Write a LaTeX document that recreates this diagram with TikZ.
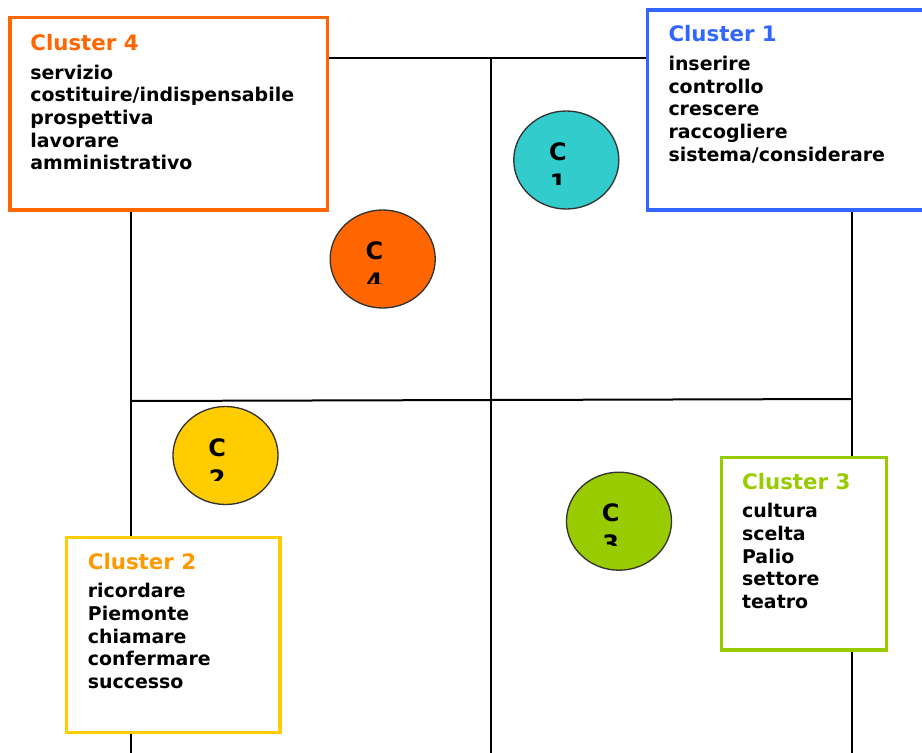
\documentclass[tikz,border=0pt]{standalone}
\usepackage{fontspec}
\setmainfont{DejaVu Sans}
\usepackage{xcolor}
\usepackage{tikz}
\usetikzlibrary{calc}
\usetikzlibrary{positioning}
\usetikzlibrary{shapes.geometric}

\definecolor{clorange}{HTML}{FF6600}
\definecolor{clblue}{HTML}{3366FF}
\definecolor{clyellow}{HTML}{FFCC00}
\definecolor{clamber}{HTML}{FF9900}
\definecolor{clgreen}{HTML}{99CC00}
\definecolor{clteal}{HTML}{33CCCC}

\begin{document}
\begin{tikzpicture}[x=0.75pt,y=-0.75pt,-,semithick]
  \tikzstyle{axis}=[draw, line width=1.5pt]
  \tikzstyle{clbox}=[draw, rectangle, line width=2.4pt, fill=white, inner sep=0pt]
  \tikzstyle{cltitle}=[anchor=base west, inner sep=0pt, font=\fontsize{16}{19}\selectfont\bfseries]
  \tikzstyle{clwords}=[anchor=north west, inner sep=0pt, align=left, font=\fontsize{14.2}{17}\selectfont\bfseries]
  \tikzstyle{blob}=[draw=black!80, ellipse, line width=1pt, minimum width=78.8pt, minimum height=73.5pt, inner sep=0pt]
  \tikzstyle{blobtext}=[anchor=north, align=center, inner sep=0pt, font=\fontsize{18}{23.25}\selectfont\bfseries]

  \useasboundingbox (0,0) rectangle (922,753);

  % quadrants
  \draw[axis] (131,760) -- (131,58) -- (852,58) -- (852,760);
  \draw[axis] (491,58) -- (491,760);
  \draw[axis] (131,401) -- (852,399);

  % cluster boxes
  \node[clbox, draw=clorange, minimum width=238.3pt, minimum height=144.2pt] (b4) at (168.85,113.85) {};
  \node[clbox, draw=clblue, minimum width=219.5pt, minimum height=150pt] (b1) at (793.65,110) {};
  \node[clbox, draw=clyellow, minimum width=160pt, minimum height=146.25pt] (b2) at (173.35,634.8) {};
  \node[clbox, draw=clgreen, minimum width=123.75pt, minimum height=144.5pt] (b3) at (804.2,553.65) {};

  \node[cltitle, text=clorange] (t4) at ([xshift=16.2pt,yshift=-25.5pt]b4.north west) {Cluster 4};
  \node[clwords] (w4) at ([yshift=-10.6pt]t4.base west) {servizio\\costituire/indispensabile\\prospettiva\\lavorare\\amministrativo};

  \node[cltitle, text=clblue] (t1) at ([xshift=16.8pt,yshift=-25pt]b1.north west) {Cluster 1};
  \node[clwords] (w1) at ([yshift=-10.6pt]t1.base west) {inserire\\controllo\\crescere\\raccogliere\\sistema/considerare};

  \node[cltitle, text=clamber] (t2) at ([xshift=16.8pt,yshift=-25pt]b2.north west) {Cluster 2};
  \node[clwords] (w2) at ([yshift=-10.6pt]t2.base west) {ricordare\\Piemonte\\chiamare\\confermare\\successo};

  \node[cltitle, text=clgreen] (t3) at ([xshift=16.2pt,yshift=-25pt]b3.north west) {Cluster 3};
  \node[clwords] (w3) at ([yshift=-10.6pt]t3.base west) {cultura\\scelta\\Palio\\settore\\teatro};

  % cluster centres
  \foreach \name/\cx/\cy/\col/\num in {c1/566.3/160/clteal/1, c4/382.7/259/clorange/4, c2/225.5/455.5/clyellow/2, c3/619/521.2/clgreen/3}{
    \node[blob, fill=\col] (\name) at (\cx,\cy) {};
    \begin{scope}
      \clip ($(\name.north)+(-60,-5)$) rectangle ($(\name.south)+(60,-25)$);
      \node[blobtext] (\name txt) at ($(\name.center)+(-8.3,-17.5)$) {C\\\num};
    \end{scope}
  }
\end{tikzpicture}
\end{document}
